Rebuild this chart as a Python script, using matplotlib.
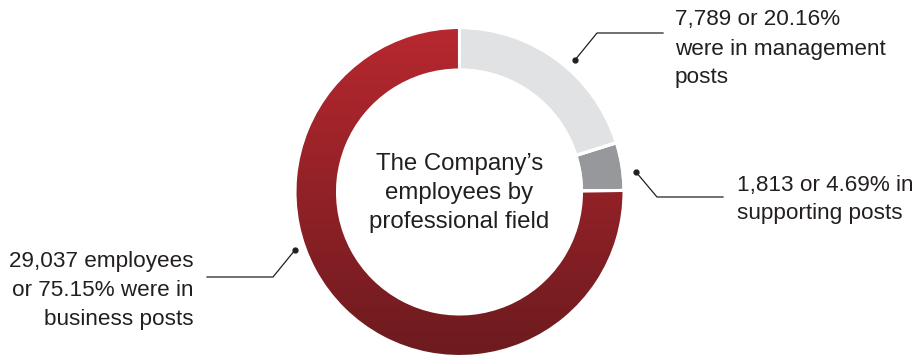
import numpy as np
import matplotlib
matplotlib.use("Agg")
import matplotlib.pyplot as plt
from matplotlib.colors import LinearSegmentedColormap

plt.rcParams['font.family'] = ['Liberation Sans', 'DejaVu Sans']

# data
fields = ["management", "supporting", "business"]
shares = [20.16, 4.69, 75.15]
colors = ["#e1e2e4", "#97989b", "#a12329"]

center_lines = ["The Company\u2019s", "employees by", "professional field"]
mgmt_lines = ["7,789 or 20.16%", "were in management", "posts"]
supp_lines = ["1,813 or 4.69% in", "supporting posts"]
bus_lines = ["29,037 employees", "or 75.15% were in", "business posts"]

W, H = 919, 355
TXT = "#231f20"

fig = plt.figure(figsize=(W / 100, H / 100), dpi=100)
ax = fig.add_axes([0, 0, 1, 1])

cx, cy = 459.5, H - 192
R, w = 164.5, 42.5

wedges, _ = ax.pie(shares, colors=colors, startangle=90, counterclock=False,
                   center=(cx, cy), radius=R,
                   wedgeprops=dict(width=w, edgecolor="white", linewidth=2.2))

# vertical red gradient on the business slice
cmap = LinearSegmentedColormap.from_list("red", ["#b7282f", "#6c1b1f"])
grad = np.linspace(0, 1, 256).reshape(-1, 1)
im = ax.imshow(grad, cmap=cmap, aspect="auto",
               extent=[cx - R, cx + R, cy - R, cy + R], origin="upper", zorder=1.5)
im.set_clip_path(wedges[2])
# redraw white edges above gradient
for wd in wedges:
    wd.set_zorder(1)
edge = ax.pie(shares, colors=["none"] * 3, startangle=90, counterclock=False,
              center=(cx, cy), radius=R,
              wedgeprops=dict(width=w, edgecolor="white", linewidth=2.2, zorder=2))

ax.set_xlim(0, W)
ax.set_ylim(0, H)
ax.set_aspect("equal")
ax.axis("off")

fs = 16.2
# center text
for i, s in enumerate(center_lines):
    ax.text(cx, H - (164 + 29 * i), s, ha="center", va="center", fontsize=17.3, color=TXT)

# management label
for i, s in enumerate(mgmt_lines):
    ax.text(675, H - (20 + 29 * i), s, ha="left", va="center", fontsize=fs, color=TXT)
ax.plot([575, 597, 663], [H - 60, H - 33, H - 33], color=TXT, lw=0.9)
ax.plot([575], [H - 60], "o", color=TXT, ms=3.5)

# supporting label
for i, s in enumerate(supp_lines):
    ax.text(737, H - (185 + 28.5 * i), s, ha="left", va="center", fontsize=fs, color=TXT)
ax.plot([636, 657, 723], [H - 172, H - 197, H - 197], color=TXT, lw=0.9)
ax.plot([636], [H - 172], "o", color=TXT, ms=3.5)

# business label
for i, s in enumerate(bus_lines):
    ax.text(194, H - (262 + 29 * i), s, ha="right", va="center", fontsize=fs, color=TXT)
ax.plot([295, 273, 207], [H - 250, H - 277, H - 277], color=TXT, lw=0.9)
ax.plot([295], [H - 250], "o", color=TXT, ms=3.5)

fig.savefig("out.png", dpi=100)
